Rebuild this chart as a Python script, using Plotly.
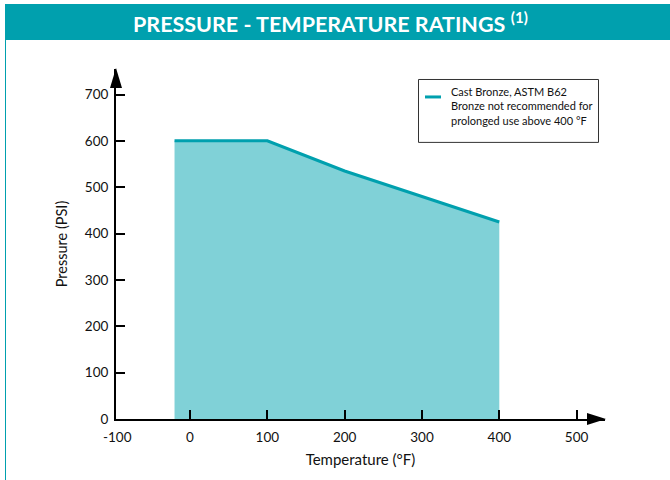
import plotly.graph_objects as go

# Data
temperature_f = [-20, 100, 200, 400]
pressure_psi = [600, 600, 535, 425]
x_tick_vals = [0, 100, 200, 300, 400, 500]
x_axis_start_label = "-100"
y_tick_vals = [0, 100, 200, 300, 400, 500, 600, 700]
legend_text = "Cast Bronze, ASTM B62<br>Bronze not recommended for<br>prolonged use above 400 °F"

TEAL = "#00A0AE"
FILL = "#80D1D7"
FONT = "Lato"

fig = go.Figure()
fig.add_trace(go.Scatter(
    x=temperature_f, y=pressure_psi, mode="lines", fill="tozeroy",
    fillcolor=FILL, line=dict(width=0, color=FILL), showlegend=False, hoverinfo="skip"))
fig.add_trace(go.Scatter(
    x=temperature_f, y=pressure_psi, mode="lines", name="Cast Bronze, ASTM B62",
    line=dict(color=TEAL, width=3), showlegend=False))

L, R, T, B = 116, 65, 69, 60.5
W, H = 670, 480
pw = W - L - R
ph = H - T - B

def px_x(p):
    return (p - L) / pw

def px_y(p):
    return (H - B - p) / ph

shapes = [
    # header band
    dict(type="rect", xref="paper", yref="paper", x0=px_x(5), x1=px_x(671),
         y0=px_y(40), y1=px_y(4), fillcolor=TEAL, line=dict(width=0), layer="below"),
    # left border line
    dict(type="line", xref="paper", yref="paper", x0=px_x(5.5), x1=px_x(5.5),
         y0=px_y(40), y1=px_y(481), line=dict(color=TEAL, width=1)),
    # x arrow head
    dict(type="path", xref="paper", yref="paper",
         path=f"M {px_x(587)},{px_y(413.5)} L {px_x(606)},{px_y(419.5)} L {px_x(587)},{px_y(425.5)} Z",
         fillcolor="black", line=dict(width=0)),
    # y arrow head
    dict(type="path", xref="paper", yref="paper",
         path=f"M {px_x(110)},{px_y(88)} L {px_x(116)},{px_y(68)} L {px_x(122)},{px_y(88)} Z",
         fillcolor="black", line=dict(width=0)),
    # legend box
    dict(type="rect", xref="paper", yref="paper", x0=px_x(418.5), x1=px_x(598.5),
         y0=px_y(142.5), y1=px_y(79.5), fillcolor="white", line=dict(color="#333333", width=1)),
    # legend sample line
    dict(type="line", xref="paper", yref="paper", x0=px_x(425), x1=px_x(441),
         y0=px_y(97), y1=px_y(97), line=dict(color=TEAL, width=3)),
]

fig.update_layout(
    width=W, height=H,
    margin=dict(l=L, r=R, t=T, b=B),
    paper_bgcolor="white", plot_bgcolor="white",
    font=dict(family=FONT, color="#111111", size=13),
    shapes=shapes,
    annotations=[
        dict(xref="paper", yref="paper", x=px_x(330), y=px_y(22),
             text="<b>PRESSURE - TEMPERATURE RATINGS</b> <b><sup>(1)</sup></b>",
             showarrow=False, font=dict(family=FONT, size=21.5, color="white"),
             xanchor="center", yanchor="middle"),
        dict(xref="paper", yref="paper", x=px_x(449), y=px_y(83),
             text=legend_text, align="left", showarrow=False,
             font=dict(family=FONT, size=11, color="#111111"),
             xanchor="left", yanchor="top"),
        dict(xref="paper", yref="paper", x=px_x(117.5), y=px_y(437.5),
             text=x_axis_start_label, showarrow=False,
             font=dict(family=FONT, size=13.5, color="#111111"),
             xanchor="center", yanchor="middle"),
    ],
    showlegend=False,
    xaxis=dict(
        range=[-95.7, 536.7], tickvals=x_tick_vals, ticktext=[str(v) for v in x_tick_vals],
        showline=True, linecolor="black", linewidth=2, showgrid=False, zeroline=False,
        ticks="inside", ticklen=9, tickwidth=2, tickcolor="black",
        ticklabelstandoff=5, tickfont=dict(size=13.5), automargin=False,
        title=dict(text="Temperature (°F)", font=dict(size=15), standoff=10),
        fixedrange=True),
    yaxis=dict(
        range=[0, 755], tickvals=y_tick_vals, ticktext=[str(v) for v in y_tick_vals],
        showline=True, linecolor="black", linewidth=2, showgrid=False, zeroline=False,
        ticks="inside", ticklen=9, tickwidth=2, tickcolor="black",
        ticklabelstandoff=3, tickfont=dict(size=13.5), automargin=False,
        title=dict(text="Pressure (PSI)", font=dict(size=14.5), standoff=14),
        fixedrange=True),
)

fig.write_html("out.html", config={"displayModeBar": False},
               post_script="document.body.style.margin='0';")
